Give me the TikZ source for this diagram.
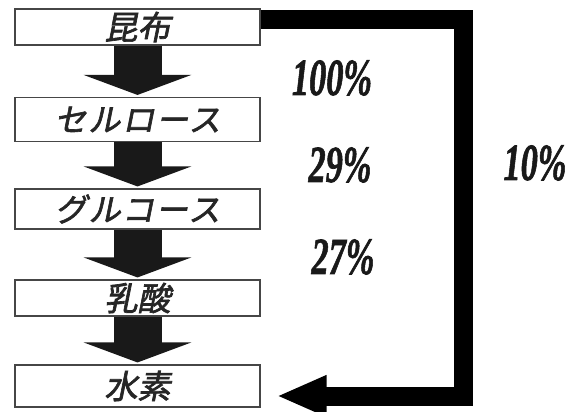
\documentclass[tikz,border=0pt]{standalone}
\usepackage{fontspec}
\setmainfont{Liberation Serif}
\newfontfamily\jpfont[FakeSlant=0.2,FakeBold=2]{Noto Sans CJK JP}
\newfontfamily\jpkana[FakeSlant=0.2,FakeBold=2,LetterSpace=6]{Noto Sans CJK JP}
\newfontfamily\pcfont[FakeBold=1.5]{Liberation Serif Bold Italic}
\usetikzlibrary{arrows.meta}
\newcommand\pctxt[1]{\scalebox{0.66}[1]{#1}}
\begin{document}
\begin{tikzpicture}[x=1pt,y=-1pt,
  box/.style={draw=gray!55!black, line width=1.1pt, fill=white,
    minimum width=245pt, inner sep=0pt, text=black!85,
    font=\jpfont\fontsize{33}{33}\selectfont},
  kana/.style={box, font=\jpkana\fontsize{32}{32}\selectfont},
  down/.style={line width=48pt, draw=black!90, shorten >=2pt,
    -{Triangle[length=20pt,width=107pt]}},
  fb/.style={line width=19pt, draw=black, line join=miter,
    -{Triangle[length=50pt,width=38pt]}},
  pct/.style={font=\pcfont\fontsize{52}{52}\selectfont, text=black!90, inner sep=0pt}]
\useasboundingbox (0,0) rectangle (578,412);
\node[box, minimum height=36pt] (b1) at (137.5,27) {昆布};
\node[kana, minimum height=44pt] (b2) at (137.5,119.5) {セルロース};
\node[kana, minimum height=40pt] (b3) at (137.5,209) {グルコース};
\node[box, minimum height=36pt] (b4) at (137.5,298) {乳酸};
\node[box, minimum height=42pt] (b5) at (137.5,386) {水素};
\draw[down] (b1.south) -- (b2.north);
\draw[down] (b2.south) -- (b3.north);
\draw[down] (b3.south) -- (b4.north);
\draw[down] (b4.south) -- (b5.north);
\coordinate (fbend) at ([xshift=16pt,yshift=-10pt]b5.east);
\draw[fb] ([yshift=7pt]b1.east) -| (463,396) -- (fbend);
\node[pct] (p1) at (332,78) {\pctxt{100\%}};
\node[pct] (p2) at (340,165) {\pctxt{29\%}};
\node[pct] (p3) at (343,257) {\pctxt{27\%}};
\node[pct] (p4) at (535,163) {\pctxt{10\%}};
\end{tikzpicture}
\end{document}
